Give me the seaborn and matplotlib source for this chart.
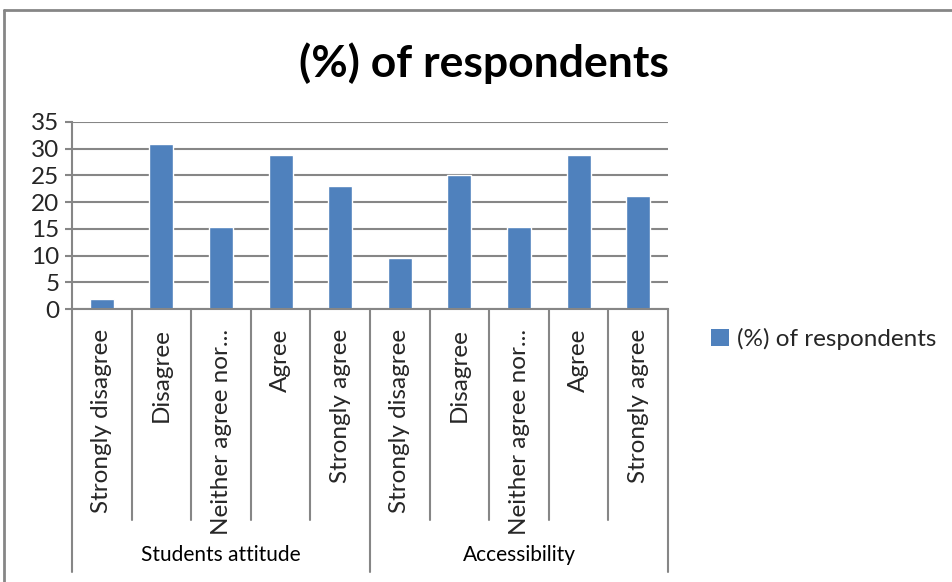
import matplotlib
matplotlib.use("Agg")
import matplotlib.pyplot as plt
import matplotlib.transforms as mtransforms
from matplotlib.lines import Line2D
from matplotlib.patches import Patch
import seaborn as sns
import pandas as pd

# Survey responses grouped by theme
groups = ["Students attitude", "Accessibility"]
responses = ["Strongly disagree", "Disagree", "Neither agree nor...", "Agree", "Strongly agree"]
students_attitude = [1.9, 30.9, 15.4, 28.9, 23.1]
accessibility = [9.5, 25.0, 15.4, 28.9, 21.2]
yticks = [0, 5, 10, 15, 20, 25, 30, 35]
series_name = "(%) of respondents"

rows = []
for g, vals in zip(groups, [students_attitude, accessibility]):
    for r, v in zip(responses, vals):
        rows.append({"group": g, "response": r, "key": f"{g}|{r}", "value": v})
df = pd.DataFrame(rows)

sns.set_theme(style="white")
plt.rcParams["font.family"] = ["Lato", "DejaVu Sans"]

W, H = 952, 582
fig = plt.figure(figsize=(W / 100, H / 100), dpi=100)
ax = fig.add_axes([72 / W, 1 - 309 / H, (668 - 72) / W, (309 - 122) / H])

bar_color = "#4F81BD"
grid_color = "#868686"
sns.barplot(data=df, x="key", y="value", color=bar_color, width=0.4,
            saturation=1, ax=ax, errorbar=None)

ax.set_ylim(0, 35)
ax.set_xlim(-0.5, len(df) - 0.5)
ax.set_yticks(yticks)
ax.set_yticklabels([str(t) for t in yticks], fontsize=17.5)
ax.yaxis.grid(True, color=grid_color, linewidth=1.5)
ax.set_axisbelow(True)
ax.set_xlabel("")
ax.set_ylabel("")
for s in ["top", "right"]:
    ax.spines[s].set_visible(False)
for s in ["left", "bottom"]:
    ax.spines[s].set_color(grid_color)
    ax.spines[s].set_linewidth(1.5)
ax.tick_params(axis="y", length=5, width=1.5, color=grid_color, pad=4, left=True)
ax.tick_params(axis="x", length=0, pad=14)

# Rotated category labels
ax.set_xticks(range(len(df)))
ax.set_xticklabels(df["response"], rotation=90, fontsize=17.5, va="top")

# Category and group separators below the axis
trans = mtransforms.blended_transform_factory(ax.transData, fig.transFigure)
y0 = 1 - 309 / H
y_cat = 1 - 520 / H
y_grp = 1 - 572 / H
n = len(responses)
for i in range(len(df) + 1):
    x = i - 0.5
    bottom = y_grp if i % n == 0 else y_cat
    fig.add_artist(Line2D([x, x], [y0, bottom], transform=trans,
                          color=grid_color, linewidth=1.5))
for gi, g in enumerate(groups):
    xc = gi * n + (n - 1) / 2
    fig.text(xc, 1 - 555 / H, g, transform=trans, ha="center", va="center",
             fontsize=15, color="black")

# Title
fig.text(484 / W, 1 - 63 / H, series_name, ha="center", va="center",
         fontsize=32, fontweight="bold", color="black")

# Legend
handle = Patch(facecolor=bar_color, edgecolor="none")
fig.legend([handle], [series_name], loc="center left",
           bbox_to_anchor=(694 / W, 1 - 339 / H), frameon=False,
           fontsize=17.5, handlelength=0.75, handleheight=0.75, handletextpad=0.3,
           borderpad=0.2)

# Chart frame
fig.add_artist(Line2D([3.5 / W, 1], [1 - 10 / H, 1 - 10 / H], transform=fig.transFigure,
                      color=grid_color, linewidth=2))
fig.add_artist(Line2D([3.5 / W, 3.5 / W], [1 - 10 / H, 0], transform=fig.transFigure,
                      color=grid_color, linewidth=2))

fig.savefig("out.png", dpi=100)
